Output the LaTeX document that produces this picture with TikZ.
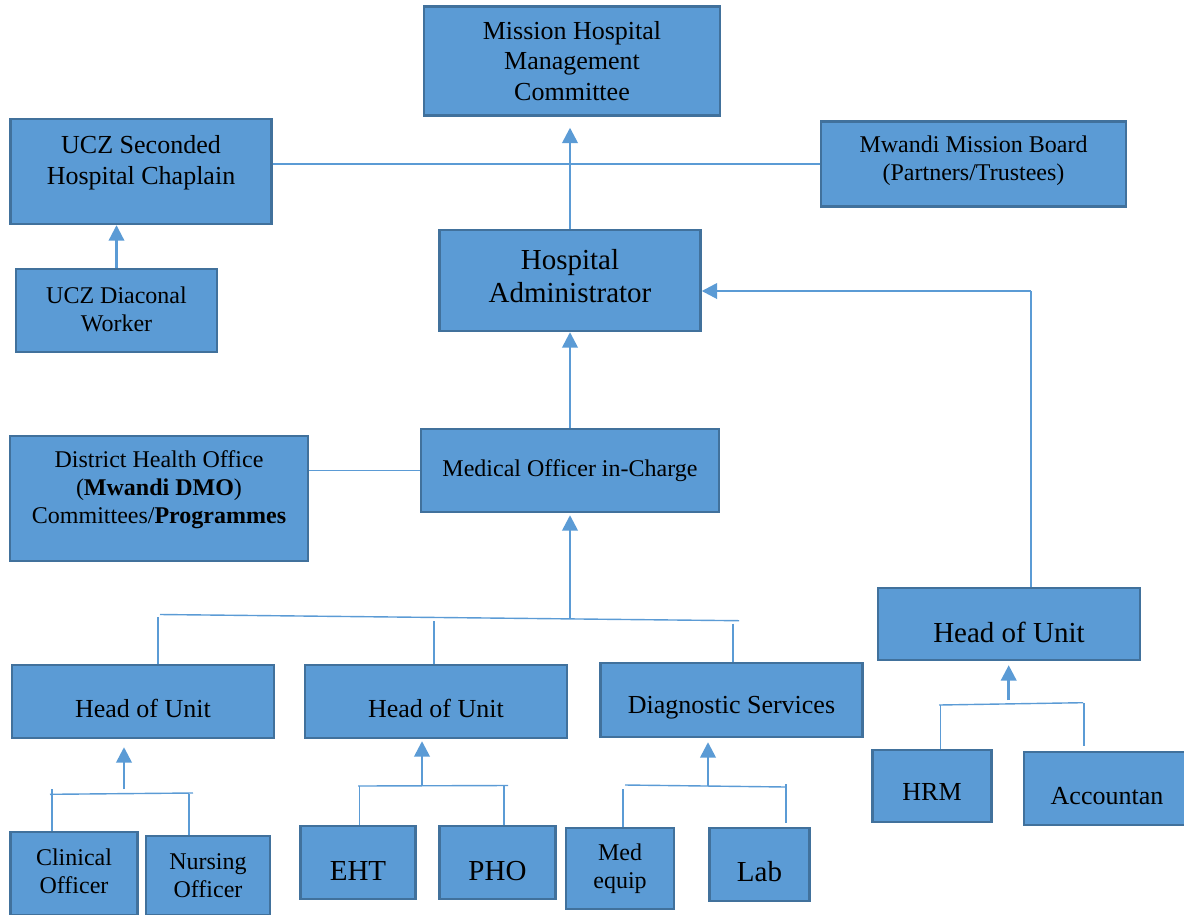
\documentclass[tikz,border=0pt]{standalone}
\usepackage{fontspec}
\setmainfont{Liberation Serif}
\usetikzlibrary{arrows.meta}
\definecolor{unitfill}{HTML}{5B9BD5}
\definecolor{unitedge}{HTML}{41719C}
\definecolor{linkblue}{HTML}{5B9BD5}

% #1 name, #2/#3 centre, #4/#5 size, #6 text lift, #7 font style, #8 label
\newcommand\orgunit[8]{%
  \node[unitbox, minimum width=#4pt, minimum height=#5pt] (#1) at (#2,#3) {};
  \node[unittext, #7] (#1-text) at ([yshift=#6pt]#1.center) {#8};}

\begin{document}
\begin{tikzpicture}[x=1pt,y=-1pt,
  unitbox/.style={draw=unitedge, fill=unitfill, line width=2.4pt, rectangle, inner sep=0pt},
  unittext/.style={align=center, inner sep=0pt, text=black},
  link/.style={draw=linkblue, line width=1.4pt},
  uparrow/.style={draw=linkblue, line width=2.6pt, -{Triangle[width=15.5pt,length=15.5pt]}},
  f24/.style={font=\fontsize{24}{28}\selectfont},
  f26/.style={font=\fontsize{26}{30.5}\selectfont},
  f29/.style={font=\fontsize{29}{33}\selectfont}]
\useasboundingbox (0,0) rectangle (1184,914);

% ---- units ----
\orgunit{mhmc}{572}{61}{296}{109}{0}{f26}{Mission Hospital\\Management\\Committee}
\orgunit{chap}{141}{171.5}{261}{105}{9}{f26}{UCZ Seconded\\Hospital Chaplain}
\orgunit{board}{973.5}{164}{305}{85}{3}{f24}{Mwandi Mission Board\\(Partners/Trustees)}
\orgunit{diac}{116.5}{310.5}{201}{83}{1.5}{f24}{UCZ Diaconal\\Worker}
\orgunit{admin}{570}{280.5}{261}{101}{4}{f29}{Hospital\\Administrator}
\orgunit{dho}{159}{498.5}{298}{125}{8.5}{f24}{District Health Office\\(\textbf{Mwandi DMO})\\Committees/\textbf{Programmes}}
\orgunit{moic}{570}{470.5}{298}{83}{0}{f24}{Medical Officer in-Charge}
\orgunit{hr}{1009}{624}{262}{72}{-8}{f29}{Head of Unit}
\orgunit{hu1}{143}{701.5}{262}{73}{-7}{f26}{Head of Unit}
\orgunit{hu2}{436}{701.5}{262}{73}{-7}{f26}{Head of Unit}
\orgunit{diag}{731.5}{700}{262}{74}{-8}{f26}{Diagnostic Services}
\orgunit{hrm}{932}{786}{119}{72}{-6}{f26}{HRM}
\orgunit{acc}{1107}{788.5}{166}{73}{-7.5}{f26}{Accountan}
\orgunit{clin}{74}{873.5}{127}{83}{2}{f24}{Clinical\\Officer}
\orgunit{nurs}{208}{875.5}{124}{79}{-0.5}{f24}{Nursing\\Officer}
\orgunit{eht}{358}{862.5}{115}{73}{-8.5}{f29}{EHT}
\orgunit{pho}{497.5}{862.5}{116}{73}{-8.5}{f29}{PHO}
\orgunit{med}{620}{868.5}{108}{81}{-0.5}{f24}{Med\\equip}
\orgunit{lab}{759.5}{864.5}{100}{73}{-7.5}{f29}{Lab}

% ---- upper links ----
\draw[link] (chap.east |- board.west) -- (board.west);
\draw[uparrow, shorten >=11pt] (admin.north) -- (admin.north |- mhmc.south);
\draw[uparrow, line width=2.2pt] (diac.north) -- (diac.north |- chap.south);
\draw[uparrow] (moic.north) -- (moic.north |- admin.south);
\draw[link] (dho.east |- moic.west) -- (moic.west);

% ---- right-hand unit reporting to the administrator ----
\coordinate (hrTurn) at (1031,291);
\draw[link] (hr.north -| hrTurn) -- (hrTurn);
\draw[uparrow] (hrTurn) -- (hrTurn -| admin.east);

% ---- main bus below the medical officer ----
\coordinate (busL) at (160,614.5);
\coordinate (busR) at (739,620.7);
\coordinate (busM) at (570,618);
\draw[link] (busL) -- (busR);
\draw[uparrow, shorten >=2pt] (busM) -- (busM |- moic.south);
\coordinate (dropA) at (158,617);
\coordinate (dropB) at (434,621);
\coordinate (dropC) at (733,623.5);
\draw[link] (dropA) -- (dropA |- hu1.north);
\draw[link] (dropB) -- (dropB |- hu2.north);
\draw[link] (dropC) -- (dropC |- diag.north);

% ---- sub-bus 1: clinical / nursing ----
\coordinate (sAL) at (50,794.3);
\coordinate (sAR) at (193,793);
\coordinate (sAM) at (124,789);
\draw[link] (sAL) -- (sAR);
\draw[uparrow, shorten >=8pt] (sAM) -- (sAM |- hu1.south);
\coordinate (sAa) at (52,789);
\coordinate (sAb) at (189,793.5);
\draw[link] (sAa) -- (sAa |- clin.north);
\draw[link] (sAb) -- (sAb |- nurs.north);

% ---- sub-bus 2: EHT / PHO ----
\coordinate (sBL) at (358,786);
\coordinate (sBR) at (508,785.5);
\coordinate (sBM) at (422,786);
\draw[link] (sBL) -- (sBR);
\draw[uparrow, shorten >=2pt] (sBM) -- (sBM |- hu2.south);
\coordinate (sBa) at (359.5,786);
\coordinate (sBb) at (504,785.5);
\draw[link] (sBa) -- (sBa |- eht.north);
\draw[link] (sBb) -- (sBb |- pho.north);

% ---- sub-bus 3: med equip / lab ----
\coordinate (sCL) at (625,785);
\coordinate (sCR) at (786,787);
\coordinate (sCM) at (708,786);
\draw[link] (sCL) -- (sCR);
\draw[uparrow, shorten >=4pt] (sCM) -- (sCM |- diag.south);
\coordinate (sCa) at (623,789);
\coordinate (sCb) at (786,784);
\draw[link] (sCa) -- (sCa |- med.north);
\draw[link, shorten >=4pt] (sCb) -- (sCb |- lab.north);

% ---- sub-bus 4: HRM / accountant ----
\coordinate (sDL) at (939,705);
\coordinate (sDR) at (1083,702.7);
\coordinate (sDM) at (1008.7,700);
\draw[link] (sDL) -- (sDR);
\draw[uparrow, shorten >=4pt] (sDM) -- (sDM |- hr.south);
\coordinate (sDa) at (940.5,705);
\coordinate (sDb) at (1084,703);
\draw[link] (sDa) -- (sDa |- hrm.north);
\draw[link, shorten >=5pt] (sDb) -- (sDb |- acc.north);
\end{tikzpicture}
\end{document}
